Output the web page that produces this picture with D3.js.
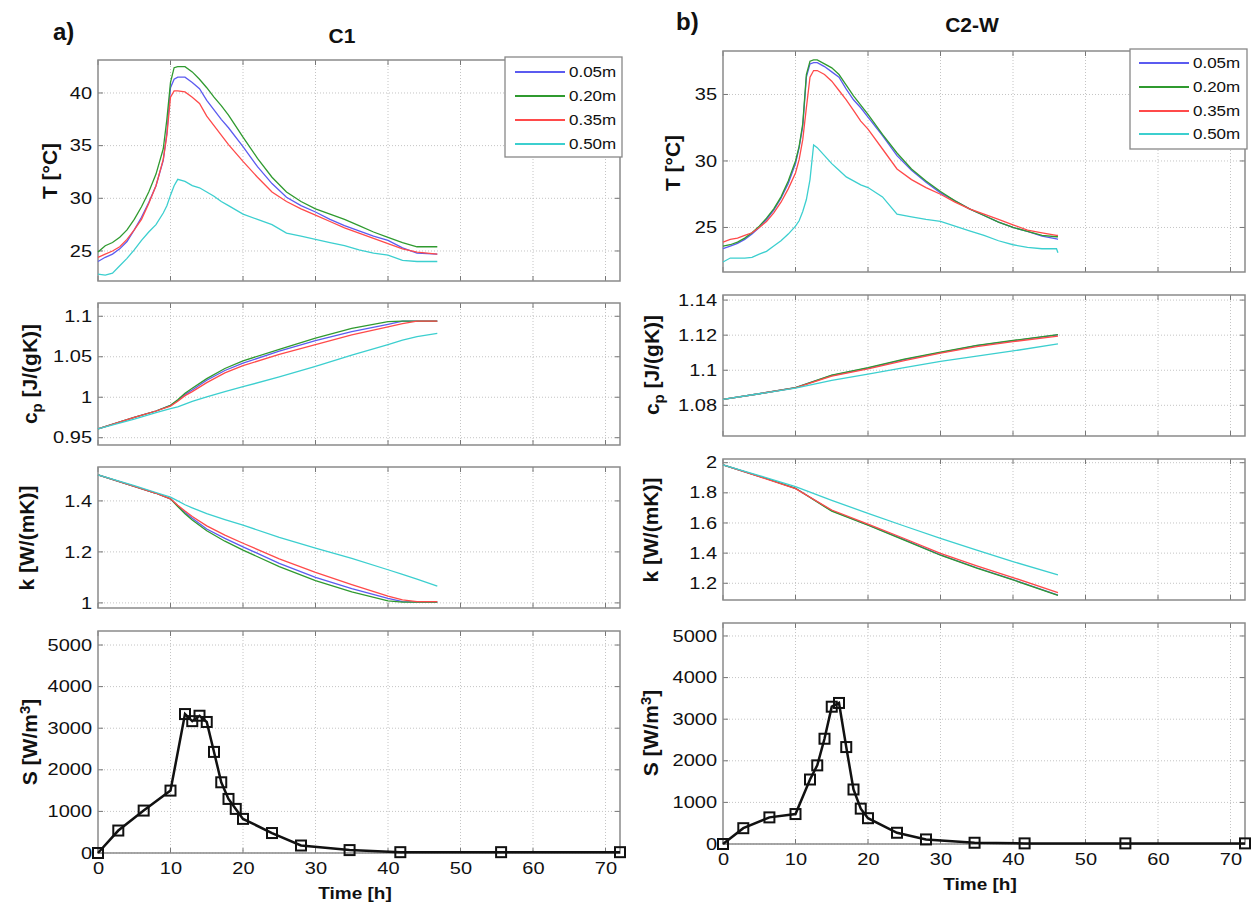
<!DOCTYPE html>
<html>
<head>
<meta charset="utf-8">
<script src="https://cdn.jsdelivr.net/npm/d3@7"></script>
<style>
  body { margin: 0; background: #fff; }
  svg { display: block; font-family: "Liberation Sans", Arial, sans-serif; }
</style>
</head>
<body>
<svg id="chart" width="1252" height="907"></svg>
<script>
// ---- data ----
const depths = ['0.05m', '0.20m', '0.35m', '0.50m'];
const timeTicks = [0, 10, 20, 30, 40, 50, 60, 70];

// C1 temperature
const hoursC1T = [0,1,2,3,4,5,6,7,8,9,9.5,10,10.5,11,12,13,14,15,16,17,18,20,22,24,26,28,30,32,34,36,38,40,42,44,46.8];
const c1T005 = [24.0,24.4,24.7,25.2,25.9,27.0,28.2,29.6,31.2,33.6,36.2,40.5,41.3,41.5,41.5,41.0,40.4,39.3,38.4,37.5,36.7,34.9,33.0,31.4,30.1,29.3,28.7,28.0,27.4,26.9,26.4,26.0,25.3,24.8,24.7];
const c1T020 = [24.9,25.5,25.8,26.3,27.0,28.0,29.2,30.6,32.3,34.7,37.5,41.0,42.4,42.5,42.5,42.0,41.3,40.5,39.6,38.8,37.9,35.8,33.8,32.0,30.6,29.7,29.0,28.5,28.0,27.4,26.8,26.3,25.8,25.4,25.4];
const c1T035 = [24.4,24.7,25.0,25.4,26.1,27.0,28.0,29.5,31.2,33.7,36.0,39.6,40.2,40.2,40.1,39.6,39.0,37.8,36.9,36.0,35.1,33.5,32.0,30.6,29.7,29.0,28.4,27.8,27.2,26.7,26.2,25.7,25.2,24.9,24.7];
const c1T050 = [22.8,22.7,22.9,23.6,24.3,25.1,26.0,26.8,27.5,28.6,29.3,30.3,31.2,31.8,31.6,31.2,31.0,30.6,30.2,29.7,29.3,28.5,28.0,27.5,26.7,26.4,26.1,25.8,25.5,25.1,24.8,24.6,24.1,24.0,24.0];

// C1 specific heat and conductivity
const hoursC1P = [0,5,8,10,11,12,13,15,17.5,20,25,30,35,40,42,44,46.8];
const c1Cp005 = [0.961,0.975,0.983,0.990,0.996,1.0035,1.009,1.021,1.033,1.042,1.057,1.070,1.081,1.090,1.094,1.094,1.094];
const c1Cp020 = [0.961,0.975,0.983,0.990,0.997,1.005,1.011,1.023,1.0355,1.045,1.059,1.073,1.085,1.0935,1.094,1.094,1.094];
const c1Cp035 = [0.961,0.975,0.983,0.989,0.995,1.002,1.007,1.018,1.030,1.039,1.053,1.065,1.077,1.087,1.091,1.094,1.094];
const c1Cp050 = [0.961,0.973,0.981,0.986,0.988,0.9915,0.995,1.0005,1.007,1.013,1.025,1.038,1.052,1.065,1.0705,1.075,1.079];
const c1K005 = [1.502,1.457,1.43,1.408,1.38,1.355,1.332,1.29,1.253,1.22,1.155,1.10,1.056,1.018,1.005,1.003,1.003];
const c1K020 = [1.502,1.457,1.43,1.408,1.378,1.35,1.325,1.283,1.242,1.207,1.142,1.087,1.043,1.008,1.003,1.003,1.003];
const c1K035 = [1.502,1.457,1.43,1.408,1.383,1.36,1.339,1.302,1.266,1.234,1.173,1.12,1.072,1.027,1.012,1.005,1.005];
const c1K050 = [1.502,1.46,1.433,1.415,1.40,1.385,1.373,1.35,1.327,1.305,1.257,1.215,1.175,1.13,1.112,1.093,1.066];

// C2-W temperature
const hoursC2T = [0,1,2,3,4,5,6,7,8,9,10,10.5,11,11.5,12,12.5,13,14,15,16,17,18,19,20,22,24,26,28,30,32,34,36,38,40,42,44,46,46.2];
const c2T005 = [23.4,23.6,23.8,24.1,24.5,25.0,25.6,26.3,27.2,28.3,29.8,31.0,32.6,36.3,37.3,37.4,37.4,37.1,36.7,36.3,35.4,34.6,34.0,33.3,31.9,30.4,29.3,28.4,27.6,27.0,26.4,25.9,25.4,25.0,24.7,24.35,24.15,24.1];
const c2T020 = [23.6,23.7,23.9,24.2,24.6,25.1,25.7,26.4,27.3,28.5,30.0,31.1,32.8,36.5,37.5,37.6,37.6,37.3,37.0,36.5,35.7,34.9,34.2,33.5,32.0,30.6,29.4,28.5,27.7,27.0,26.4,25.9,25.4,25.0,24.7,24.4,24.3,24.3];
const c2T035 = [23.9,24.1,24.2,24.4,24.6,25.0,25.45,26.1,26.9,27.9,29.1,30.1,31.6,34.0,36.3,36.8,36.8,36.5,36.0,35.3,34.6,33.8,33.0,32.4,30.9,29.4,28.6,28.0,27.5,26.9,26.4,26.0,25.6,25.2,24.8,24.6,24.4,24.4];
const c2T050 = [22.4,22.7,22.7,22.7,22.75,23.0,23.2,23.6,24.0,24.5,25.1,25.5,26.2,27.1,28.6,31.2,31.0,30.4,29.8,29.3,28.8,28.5,28.2,28.0,27.3,26.0,25.8,25.6,25.45,25.1,24.75,24.4,24.0,23.7,23.5,23.4,23.4,23.1];

// C2-W specific heat and conductivity
const hoursC2P = [0,5,10,15,20,25,30,35,40,46.2];
const c2Cp005 = [1.0834,1.0866,1.0901,1.0970,1.1012,1.1060,1.1100,1.1140,1.1168,1.1202];
const c2Cp020 = [1.0834,1.0866,1.0901,1.0972,1.1015,1.1063,1.1103,1.1142,1.1170,1.1203];
const c2Cp035 = [1.0834,1.0866,1.0900,1.0966,1.1008,1.1055,1.1097,1.1135,1.1163,1.1195];
const c2Cp050 = [1.0834,1.0866,1.0898,1.0942,1.0978,1.1015,1.1050,1.1080,1.1110,1.1150];
const c2K005 = [1.985,1.91,1.83,1.681,1.587,1.489,1.389,1.303,1.224,1.122];
const c2K020 = [1.985,1.91,1.83,1.678,1.585,1.486,1.386,1.300,1.222,1.120];
const c2K035 = [1.985,1.907,1.828,1.686,1.592,1.497,1.399,1.316,1.238,1.138];
const c2K050 = [1.985,1.915,1.841,1.75,1.664,1.58,1.498,1.42,1.344,1.255];

// heat source S
const hoursC1S = [0,2.8,6.3,10,12,13,14,15,16,17,18,19,20,24,28,34.7,41.7,55.6,72];
const c1S = [0,540,1020,1500,3340,3170,3300,3150,2430,1700,1300,1060,820,480,180,70,20,20,20];
const hoursC2S = [0,2.8,6.4,10,12,13,14,15,16,17,18,19,20,24,28,34.7,41.6,55.5,72];
const c2S = [0,380,640,720,1550,1890,2530,3300,3390,2330,1310,850,620,270,110,30,15,15,15];

// ---- drawing ----
const colors = ['#5b5bf0', '#2f9a2f', '#ff4a4a', '#3ccfcf'];
const svg = d3.select('#chart');
svg.append('rect').attr('width', 1252).attr('height', 907).attr('fill', '#fff');

function panel(o) {
  const x = d3.scaleLinear().domain([0, 72]).range([o.x0, o.x1]);
  const y = d3.scaleLinear().domain(o.domain).range([o.y1, o.y0]);
  const g = svg.append('g');

  // dotted grid
  g.selectAll('.vg').data(timeTicks.filter(d => d > 0)).enter().append('line')
    .attr('x1', d => x(d)).attr('x2', d => x(d)).attr('y1', o.y0).attr('y2', o.y1)
    .attr('stroke', '#c4c4c4').attr('stroke-dasharray', '1,2');
  g.selectAll('.hg').data(o.ticks).enter().append('line')
    .attr('x1', o.x0).attr('x2', o.x1).attr('y1', d => y(d)).attr('y2', d => y(d))
    .attr('stroke', '#c4c4c4').attr('stroke-dasharray', '1,2');

  // inward tick marks on all sides
  timeTicks.forEach(t => {
    g.append('line').attr('x1', x(t)).attr('x2', x(t)).attr('y1', o.y1).attr('y2', o.y1 - 5).attr('stroke', '#777');
    g.append('line').attr('x1', x(t)).attr('x2', x(t)).attr('y1', o.y0).attr('y2', o.y0 + 5).attr('stroke', '#777');
  });
  o.ticks.forEach(v => {
    g.append('line').attr('x1', o.x0).attr('x2', o.x0 + 5).attr('y1', y(v)).attr('y2', y(v)).attr('stroke', '#777');
    g.append('line').attr('x1', o.x1).attr('x2', o.x1 - 5).attr('y1', y(v)).attr('y2', y(v)).attr('stroke', '#777');
  });

  // tick labels
  const ya = g.append('g').attr('transform', `translate(${o.x0},0)`)
    .call(d3.axisLeft(y).tickValues(o.ticks).tickSize(0).tickPadding(6).tickFormat(d3.format('~g')));
  ya.select('.domain').remove();
  ya.selectAll('text').attr('font-size', 20).attr('fill', '#111')
    .attr('font-family', '"Liberation Sans", Arial, sans-serif').attr('transform', 'scale(1,0.8)');

  if (o.showX) {
    const xa = g.append('g').attr('transform', `translate(0,${o.y1})`)
      .call(d3.axisBottom(x).tickValues(timeTicks).tickSize(0).tickPadding(12.5));
    xa.select('.domain').remove();
    xa.selectAll('text').attr('font-size', 20).attr('fill', '#111')
      .attr('font-family', '"Liberation Sans", Arial, sans-serif').attr('transform', 'scale(1,0.8)');
  }

  g.append('rect').attr('x', o.x0).attr('y', o.y0).attr('width', o.x1 - o.x0).attr('height', o.y1 - o.y0)
    .attr('fill', 'none').attr('stroke', '#8a8a8a').attr('stroke-width', 1.5);
  return { x, y, g };
}

function drawSeries(p, hours, series) {
  const line = d3.line().x(d => p.x(d[0])).y(d => p.y(d[1]));
  series.forEach((vals, i) => {
    p.g.append('path').datum(d3.zip(hours, vals))
      .attr('d', line).attr('fill', 'none').attr('stroke', colors[i]).attr('stroke-width', 1.3);
  });
}

function drawSource(p, hours, vals) {
  const pts = d3.zip(hours, vals);
  p.g.append('path').datum(pts)
    .attr('d', d3.line().x(d => p.x(d[0])).y(d => p.y(d[1])))
    .attr('fill', 'none').attr('stroke', '#111').attr('stroke-width', 2.5);
  p.g.selectAll('.mk').data(pts).enter().append('rect')
    .attr('x', d => p.x(d[0]) - 5).attr('y', d => p.y(d[1]) - 5)
    .attr('width', 10).attr('height', 10)
    .attr('fill', 'none').attr('stroke', '#111').attr('stroke-width', 2);
}

function legend(bx, by, bw, bh, lx0, lx1, rows) {
  const g = svg.append('g');
  g.append('rect').attr('x', bx).attr('y', by).attr('width', bw).attr('height', bh)
    .attr('fill', '#fff').attr('stroke', '#888').attr('stroke-width', 1.3);
  depths.forEach((d, i) => {
    g.append('line').attr('x1', lx0).attr('x2', lx1).attr('y1', rows[i]).attr('y2', rows[i])
      .attr('stroke', colors[i]).attr('stroke-width', 2);
    g.append('g').attr('transform', `translate(${lx1 + 4},${rows[i] + 5.3}) scale(1,0.88)`)
      .append('text').attr('font-size', 17).attr('fill', '#111').text(d);
  });
}

function yLabel(x, y, parts) {
  const t = svg.append('text').attr('transform', `translate(${x},${y}) rotate(-90)`)
    .attr('text-anchor', 'middle').attr('font-size', 21).attr('font-weight', 'bold').attr('fill', '#111');
  parts.forEach(p => {
    const s = t.append('tspan').text(p.t);
    if (p.dy) s.attr('dy', p.dy);
    if (p.fs) s.attr('font-size', p.fs);
  });
}

function plainText(x, y, txt, size, anchor, sy) {
  svg.append('g').attr('transform', `translate(${x},${y}) scale(1,${sy})`)
    .append('text').attr('text-anchor', anchor).attr('font-size', size)
    .attr('font-weight', 'bold').attr('fill', '#111').text(txt);
}

// left column: C1
const pT1 = panel({ x0: 98, x1: 620, y0: 60, y1: 281, domain: [22.15, 43.13], ticks: [25, 30, 35, 40] });
drawSeries(pT1, hoursC1T, [c1T005, c1T020, c1T035, c1T050]);
const pC1 = panel({ x0: 98, x1: 620, y0: 303, y1: 445, domain: [0.941, 1.1164], ticks: [0.95, 1, 1.05, 1.1] });
drawSeries(pC1, hoursC1P, [c1Cp005, c1Cp020, c1Cp035, c1Cp050]);
const pK1 = panel({ x0: 98, x1: 620, y0: 467, y1: 608, domain: [0.98, 1.533], ticks: [1, 1.2, 1.4] });
drawSeries(pK1, hoursC1P, [c1K005, c1K020, c1K035, c1K050]);
const pS1 = panel({ x0: 98, x1: 620, y0: 631, y1: 853, domain: [0, 5337], ticks: [0, 1000, 2000, 3000, 4000, 5000], showX: true });
drawSource(pS1, hoursC1S, c1S);

// right column: C2-W
const pT2 = panel({ x0: 723, x1: 1245, y0: 51, y1: 272, domain: [21.65, 38.27], ticks: [25, 30, 35] });
drawSeries(pT2, hoursC2T, [c2T005, c2T020, c2T035, c2T050]);
const pC2 = panel({ x0: 723, x1: 1245, y0: 295, y1: 436, domain: [1.0625, 1.1429], ticks: [1.08, 1.1, 1.12, 1.14] });
drawSeries(pC2, hoursC2P, [c2Cp005, c2Cp020, c2Cp035, c2Cp050]);
const pK2 = panel({ x0: 723, x1: 1245, y0: 459, y1: 600, domain: [1.089, 2.0245], ticks: [1.2, 1.4, 1.6, 1.8, 2] });
drawSeries(pK2, hoursC2P, [c2K005, c2K020, c2K035, c2K050]);
const pS2 = panel({ x0: 723, x1: 1245, y0: 623, y1: 844, domain: [0, 5312], ticks: [0, 1000, 2000, 3000, 4000, 5000], showX: true });
drawSource(pS2, hoursC2S, c2S);

// legends
legend(505, 57, 117, 100, 515, 565, [72, 96, 120, 144]);
legend(1130, 49, 117, 100, 1139, 1189, [63, 87, 111, 134]);

// axis labels
yLabel(57, 171, [{ t: 'T [°C]' }]);
yLabel(37, 374, [{ t: 'c' }, { t: 'p', dy: '0.35em', fs: 15 }, { t: ' [J/(gK)]', dy: '-0.25em' }]);
yLabel(34, 538, [{ t: 'k [W/(mK)]' }]);
yLabel(37, 742, [{ t: 'S [W/m' }, { t: '3', dy: '-0.45em', fs: 15 }, { t: ']', dy: '0.32em' }]);

yLabel(680, 163, [{ t: 'T [°C]' }]);
yLabel(659, 365, [{ t: 'c' }, { t: 'p', dy: '0.35em', fs: 15 }, { t: ' [J/(gK)]', dy: '-0.25em' }]);
yLabel(658, 530, [{ t: 'k [W/(mK)]' }]);
yLabel(658, 733, [{ t: 'S [W/m' }, { t: '3', dy: '-0.45em', fs: 15 }, { t: ']', dy: '0.32em' }]);

plainText(355, 899, 'Time [h]', 19, 'middle', 0.85);
plainText(980, 890, 'Time [h]', 19, 'middle', 0.85);

// titles
plainText(53, 40, 'a)', 24, 'start', 1);
plainText(342, 43, 'C1', 21, 'middle', 1);
plainText(676, 30, 'b)', 24, 'start', 1);
plainText(972, 32, 'C2-W', 21, 'middle', 1);
</script>
</body>
</html>
